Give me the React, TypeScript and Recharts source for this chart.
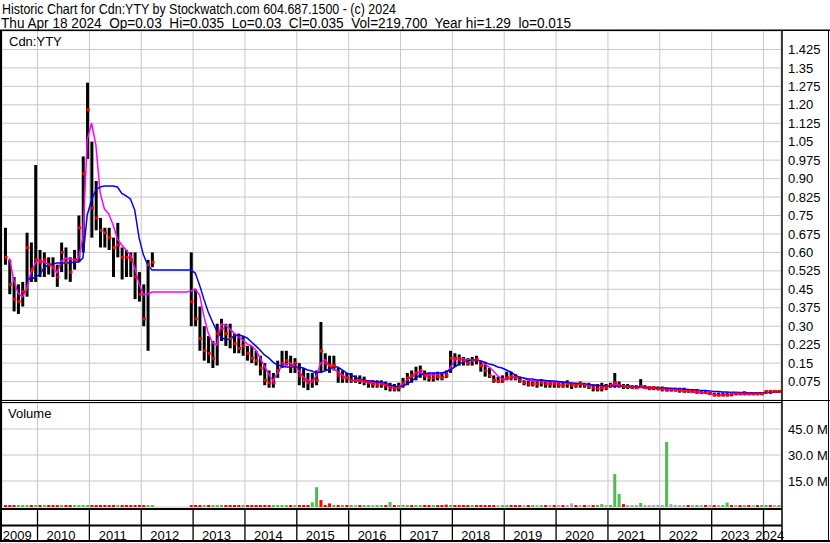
import React from 'react';
import { ComposedChart, Bar, Line, Scatter, XAxis, YAxis, CartesianGrid, Cell } from 'recharts';

const FONT = '"Liberation Sans", Arial, Helvetica, sans-serif';

const TITLE_LINE_1 = 'Historic Chart for Cdn:YTY by Stockwatch.com 604.687.1500 - (c) 2024';
const TITLE_LINE_2 = 'Thu Apr 18 2024  Op=0.03  Hi=0.035  Lo=0.03  Cl=0.035  Vol=219,700  Year hi=1.29  lo=0.015';
const PRICE_PANEL_LABEL = 'Cdn:YTY';
const VOLUME_PANEL_LABEL = 'Volume';

const YEARS = [2009, 2010, 2011, 2012, 2013, 2014, 2015, 2016, 2017, 2018, 2019, 2020, 2021, 2022, 2023, 2024];
const X_DOMAIN: [number, number] = [2009.315, 2024.337];
const PRICE_TICKS = [0.075, 0.15, 0.225, 0.3, 0.375, 0.45, 0.525, 0.6, 0.675, 0.75, 0.825, 0.9, 0.975, 1.05, 1.125, 1.2, 1.275, 1.35, 1.425];
const VOLUME_TICKS = [15, 30, 45];

// monthly categories 2009-05 .. 2024-04
const MONTHS: string[] = (() => {
  const out: string[] = [];
  let y = 2009, m = 5;
  while (y < 2024 || (y === 2024 && m <= 4)) {
    out.push(`${y}-${String(m).padStart(2, '0')}`);
    m++; if (m > 12) { m = 1; y++; }
  }
  return out;
})();

const HIGH = [
  0.70, 0.57, 0.50, 0.47, 0.48, 0.68, 0.64, 0.955, 0.61, 0.60,
  0.58, 0.58, 0.55, 0.64, 0.62, 0.58, 0.61, 0.75, 0.99, 1.29,
  1.05, 0.89, 0.74, 0.70, 0.70, 0.66, 0.72, 0.62, 0.61, 0.60,
  0.60, 0.52, 0.47, 0.57, 0.60, null, null, null, null, null,
  null, null, null, 0.60, 0.45, 0.38, 0.30, 0.26, 0.24, 0.31,
  0.33, 0.31, 0.31, 0.27, 0.27, 0.26, 0.22, 0.22, 0.20, 0.18,
  0.15, 0.12, 0.11, 0.16, 0.20, 0.20, 0.18, 0.17, 0.15, 0.13,
  0.11, 0.11, 0.12, 0.317, 0.19, 0.18, 0.18, 0.13, 0.12, 0.11,
  0.11, 0.10, 0.10, 0.095, 0.08, 0.08, 0.08, 0.08, 0.075, 0.07,
  0.065, 0.07, 0.09, 0.11, 0.12, 0.135, 0.14, 0.12, 0.11, 0.11,
  0.115, 0.11, 0.12, 0.20, 0.19, 0.185, 0.175, 0.17, 0.175, 0.18,
  0.16, 0.155, 0.13, 0.10, 0.095, 0.10, 0.115, 0.115, 0.105, 0.095,
  0.08, 0.08, 0.08, 0.08, 0.085, 0.075, 0.08, 0.075, 0.075, 0.075,
  0.08, 0.07, 0.07, 0.075, 0.07, 0.07, 0.065, 0.065, 0.07, 0.065,
  0.07, 0.11, 0.075, 0.065, 0.065, 0.06, 0.06, 0.085, 0.06, 0.055,
  0.055, 0.055, 0.055, 0.05, 0.05, 0.05, 0.05, 0.05, 0.045, 0.045,
  0.045, 0.04, 0.04, 0.035, 0.03, 0.03, 0.03, 0.03, 0.03, 0.03,
  0.03, 0.035, 0.03, 0.03, 0.03, 0.03, 0.04, 0.04, 0.04, 0.04,
];

const LOW = [
  0.55, 0.43, 0.36, 0.35, 0.38, 0.42, 0.48, 0.48, 0.50, 0.50,
  0.51, 0.50, 0.46, 0.52, 0.49, 0.48, 0.53, 0.56, 0.60, 0.98,
  0.66, 0.69, 0.62, 0.62, 0.61, 0.50, 0.58, 0.49, 0.50, 0.50,
  0.41, 0.40, 0.30, 0.20, 0.54, null, null, null, null, null,
  null, null, null, 0.30, 0.30, 0.20, 0.16, 0.15, 0.13, 0.14,
  0.24, 0.22, 0.21, 0.19, 0.19, 0.18, 0.16, 0.15, 0.14, 0.10,
  0.06, 0.05, 0.05, 0.09, 0.13, 0.14, 0.11, 0.11, 0.06, 0.05,
  0.04, 0.05, 0.06, 0.11, 0.12, 0.11, 0.12, 0.07, 0.07, 0.07,
  0.07, 0.07, 0.065, 0.06, 0.05, 0.05, 0.05, 0.05, 0.04, 0.035,
  0.035, 0.035, 0.05, 0.06, 0.07, 0.08, 0.09, 0.08, 0.075, 0.075,
  0.08, 0.08, 0.09, 0.11, 0.135, 0.14, 0.14, 0.14, 0.14, 0.145,
  0.115, 0.095, 0.09, 0.07, 0.07, 0.07, 0.08, 0.08, 0.08, 0.07,
  0.06, 0.055, 0.055, 0.05, 0.055, 0.05, 0.05, 0.05, 0.05, 0.05,
  0.05, 0.045, 0.05, 0.05, 0.05, 0.045, 0.035, 0.035, 0.035, 0.04,
  0.05, 0.05, 0.05, 0.045, 0.045, 0.045, 0.045, 0.05, 0.045, 0.04,
  0.04, 0.04, 0.035, 0.035, 0.035, 0.035, 0.03, 0.03, 0.03, 0.03,
  0.025, 0.025, 0.025, 0.02, 0.015, 0.015, 0.015, 0.015, 0.015, 0.02,
  0.02, 0.02, 0.02, 0.02, 0.02, 0.02, 0.025, 0.025, 0.03, 0.03,
];

const CLOSE = [
  0.58, 0.47, 0.41, 0.40, 0.44, 0.62, 0.53, 0.57, 0.56, 0.57,
  0.55, 0.54, 0.50, 0.60, 0.56, 0.52, 0.57, 0.70, 0.92, 1.18,
  0.78, 0.74, 0.69, 0.68, 0.66, 0.62, 0.63, 0.58, 0.58, 0.57,
  0.50, 0.43, 0.33, 0.55, 0.56, null, null, null, null, null,
  null, null, null, 0.40, 0.33, 0.25, 0.20, 0.19, 0.17, 0.27,
  0.29, 0.27, 0.25, 0.23, 0.21, 0.22, 0.19, 0.17, 0.16, 0.13,
  0.08, 0.07, 0.07, 0.12, 0.15, 0.16, 0.14, 0.15, 0.10, 0.08,
  0.07, 0.08, 0.08, 0.20, 0.15, 0.14, 0.14, 0.10, 0.09, 0.09,
  0.08, 0.08, 0.08, 0.075, 0.07, 0.065, 0.06, 0.065, 0.06, 0.05,
  0.045, 0.05, 0.07, 0.09, 0.10, 0.11, 0.12, 0.10, 0.09, 0.09,
  0.095, 0.09, 0.10, 0.17, 0.17, 0.165, 0.16, 0.15, 0.16, 0.165,
  0.14, 0.12, 0.10, 0.08, 0.075, 0.08, 0.09, 0.095, 0.09, 0.08,
  0.07, 0.065, 0.065, 0.065, 0.07, 0.065, 0.065, 0.065, 0.06, 0.06,
  0.065, 0.06, 0.06, 0.065, 0.06, 0.055, 0.05, 0.045, 0.05, 0.05,
  0.06, 0.07, 0.06, 0.055, 0.055, 0.05, 0.05, 0.055, 0.05, 0.05,
  0.05, 0.045, 0.045, 0.04, 0.04, 0.04, 0.04, 0.035, 0.035, 0.035,
  0.035, 0.03, 0.03, 0.03, 0.02, 0.02, 0.02, 0.02, 0.025, 0.025,
  0.025, 0.025, 0.025, 0.025, 0.025, 0.025, 0.035, 0.035, 0.035, 0.035,
];

// fast moving average (magenta)
const MA_FAST = [
  null, 0.577, 0.488, 0.435, 0.419, 0.451, 0.52, 0.557, 0.569, 0.561,
  0.553, 0.54, 0.516, 0.565, 0.577, 0.573, 0.569, 0.577, 0.659, 1.057,
  1.126, 1.037, 0.841, 0.776, 0.756, 0.711, 0.654, 0.63, 0.61, 0.589,
  0.537, 0.472, 0.427, 0.431, 0.439, 0.439, 0.439, 0.439, 0.439, 0.439,
  0.439, 0.439, 0.439, 0.443, 0.451, 0.427, 0.341, 0.272, 0.232, 0.224,
  0.309, 0.305, 0.289, 0.272, 0.256, 0.244, 0.228, 0.22, 0.203, 0.171,
  0.138, 0.106, 0.077, 0.11, 0.138, 0.146, 0.15, 0.138, 0.118, 0.093,
  0.081, 0.073, 0.098, 0.15, 0.163, 0.138, 0.126, 0.114, 0.102, 0.089,
  0.081, 0.077, 0.077, 0.073, 0.073, 0.073, 0.069, 0.069, 0.061, 0.053,
  0.049, 0.053, 0.065, 0.081, 0.098, 0.11, 0.114, 0.106, 0.102, 0.102,
  0.106, 0.11, 0.11, 0.13, 0.163, 0.171, 0.167, 0.163, 0.163, 0.163,
  0.159, 0.146, 0.134, 0.118, 0.098, 0.085, 0.085, 0.089, 0.093, 0.093,
  0.089, 0.081, 0.077, 0.077, 0.077, 0.075, 0.073, 0.073, 0.071, 0.071,
  0.069, 0.067, 0.067, 0.065, 0.065, 0.063, 0.061, 0.059, 0.057, 0.057,
  0.059, 0.065, 0.061, 0.055, 0.053, 0.053, 0.051, 0.051, 0.049, 0.047,
  0.047, 0.045, 0.043, 0.043, 0.041, 0.041, 0.039, 0.037, 0.035, 0.033,
  0.031, 0.029, 0.027, 0.025, 0.022, 0.021, 0.021, 0.021, 0.022, 0.023,
  0.024, 0.024, 0.024, 0.025, 0.025, 0.026, 0.03, 0.032, 0.034, 0.035,
];

// slow moving average (blue)
const MA_SLOW = [
  null, null, null, null, null, 0.496, 0.49, 0.50, 0.51, 0.537,
  0.549, 0.553, 0.557, 0.557, 0.557, 0.557, 0.561, 0.561, 0.577, 0.752,
  0.813, 0.854, 0.866, 0.87, 0.87, 0.87, 0.866, 0.84, 0.83, 0.817,
  0.772, 0.659, 0.59, 0.549, 0.528, 0.528, 0.528, 0.528, 0.528, 0.528,
  0.528, 0.528, 0.528, 0.528, 0.516, 0.467, 0.41, 0.358, 0.317, 0.28,
  0.256, 0.244, 0.248, 0.26, 0.264, 0.26, 0.252, 0.236, 0.22, 0.203,
  0.183, 0.171, 0.154, 0.142, 0.138, 0.134, 0.134, 0.134, 0.134, 0.13,
  0.122, 0.118, 0.11, 0.114, 0.118, 0.126, 0.134, 0.134, 0.122, 0.11,
  0.102, 0.093, 0.085, 0.081, 0.077, 0.077, 0.073, 0.073, 0.069, 0.061,
  0.057, 0.053, 0.057, 0.065, 0.077, 0.089, 0.102, 0.106, 0.11, 0.11,
  0.11, 0.11, 0.114, 0.122, 0.134, 0.146, 0.154, 0.159, 0.163, 0.163,
  0.159, 0.154, 0.146, 0.142, 0.134, 0.13, 0.122, 0.114, 0.102, 0.093,
  0.089, 0.085, 0.085, 0.081, 0.081, 0.079, 0.077, 0.077, 0.075, 0.073,
  0.071, 0.069, 0.067, 0.067, 0.065, 0.063, 0.061, 0.059, 0.059, 0.057,
  0.057, 0.057, 0.057, 0.055, 0.055, 0.055, 0.055, 0.053, 0.053, 0.051,
  0.051, 0.049, 0.049, 0.049, 0.047, 0.047, 0.045, 0.045, 0.043, 0.041,
  0.041, 0.039, 0.039, 0.037, 0.035, 0.035, 0.033, 0.033, 0.031, 0.031,
  0.03, 0.03, 0.029, 0.029, 0.029, 0.029, 0.03, 0.031, 0.032, 0.033,
];

// volume in millions (largest daily bar visible in each month)
const VOLUME_M = [
  0.8, 0.6, 0.7, 0.5, 0.6, 0.9, 0.7, 1.2, 0.6, 0.5,
  0.5, 0.6, 0.5, 0.7, 0.6, 0.5, 0.6, 0.8, 1.0, 1.1,
  0.9, 0.7, 0.6, 0.5, 0.5, 0.6, 0.5, 0.6, 0.4, 0.5,
  0.6, 0.6, 0.8, 0.7, 0.5, null, null, null, null, null,
  null, null, null, 0.8, 0.9, 0.8, 1.0, 0.9, 1.1, 0.8,
  0.7, 0.6, 0.6, 0.7, 0.6, 0.7, 0.6, 0.6, 0.5, 0.7,
  0.8, 0.6, 0.6, 0.8, 0.7, 0.6, 0.7, 0.6, 0.8, 0.7,
  1.0, 2.7, 11.4, 4.0, 1.2, 2.1, 1.2, 0.7, 0.8, 0.6,
  0.7, 0.8, 0.6, 0.7, 1.0, 0.8, 0.7, 0.8, 0.9, 2.9,
  0.8, 0.9, 1.2, 0.8, 0.7, 0.8, 0.9, 0.6, 0.7, 0.6,
  0.7, 0.6, 1.4, 1.0, 0.8, 0.6, 0.7, 0.6, 0.7, 0.6,
  0.8, 0.9, 0.6, 0.6, 0.5, 0.5, 0.6, 0.5, 0.6, 0.5,
  0.5, 0.6, 0.5, 0.5, 0.6, 0.5, 0.6, 0.5, 0.5, 0.6,
  0.7, 2.1, 0.6, 0.7, 0.5, 0.6, 0.7, 1.0, 1.7, 0.9,
  1.2, 19.0, 7.5, 1.7, 0.8, 0.7, 1.2, 2.3, 0.7, 0.8,
  1.2, 0.9, 0.7, 37.5, 1.7, 0.6, 0.7, 0.5, 0.4, 0.5,
  0.4, 0.5, 0.4, 0.5, 0.6, 0.5, 0.6, 2.5, 0.6, 0.5,
  0.4, 0.5, 0.5, 0.6, 0.4, 0.5, 0.6, 0.5, 0.8, 0.4,
];

// u = up (green), d = down (red), n = unchanged (grey), - = no trading
const VOLUME_DIR = (
  'ddduuududu' + 'dddudduuuu' + 'dddddduddd' + 'ddduu-----' + '---ddduduu' +
  'uddddudddd' + 'dduuuududd' + 'duudddudud' + 'unduunuudu' + 'duuuduuddu' +
  'ddduddddud' + 'ddddnuuddd' + 'ndunudndnd' + 'nndndnduun' + 'uuudnnnunn' +
  'nnnunnnndn' + 'undndnuudn' + 'dudnduudnu'
).split('');

const DIR_COLOR: Record<string, string> = { u: '#4fba4f', d: '#ff0000', n: '#a9a9a9', '-': 'transparent' };

const monthToYear = (m: string) => {
  const [y, mm] = m.split('-').map(Number);
  return y + (mm - 0.5) / 12;
};

const rows = MONTHS.map((m, i) => ({
  month: m,
  t: monthToYear(m),
  hl: HIGH[i] == null ? null : [LOW[i] as number, HIGH[i] as number],
  c: CLOSE[i],
  fast: MA_FAST[i],
  slow: MA_SLOW[i],
  vol: VOLUME_M[i],
  dir: VOLUME_DIR[i],
}));
const closeRows = rows.filter((r) => r.c != null);

const YEAR_BOUNDS = YEARS.filter((y) => y > X_DOMAIN[0] && y < X_DOMAIN[1]);
const LABEL_POS = YEARS.map((y) => (Math.max(y, X_DOMAIN[0]) + Math.min(y + 1, X_DOMAIN[1])) / 2);
const LABEL_TICKS = [...YEAR_BOUNDS, ...LABEL_POS];

const fmtPrice = (v: number) => {
  const s = v.toFixed(3);
  return s.endsWith('0') ? s.slice(0, -1) : s;
};
const fmtVol = (v: number) => `${v.toFixed(1)} M`;

const CloseMark = (p: any) => {
  if (p.cx == null || p.cy == null || isNaN(p.cx) || isNaN(p.cy)) return <g />;
  return <rect x={p.cx - 0.5} y={p.cy - 1.5} width={3} height={3} fill="#ff0000" />;
};

// the volume chart sits at page y = 400; separator rows span page y 509..541
const VOL_TOP = 400;
const YearTick = (p: any) => {
  const v = p.payload?.value;
  const idx = LABEL_POS.indexOf(v);
  if (idx < 0) {
    return <line x1={p.x} x2={p.x} y1={509 - VOL_TOP} y2={541 - VOL_TOP} stroke="#000" strokeWidth={1.3} />;
  }
  return (
    <text x={p.x} y={539.5 - VOL_TOP} dx={-2.5} textAnchor="middle" fontSize={13} fill="#000" fontFamily={FONT}>
      {String(YEARS[idx])}
    </text>
  );
};

const axisTick = { fontSize: 13, fill: '#000', fontFamily: FONT };

export default function App() {
  return (
    <div style={{ position: 'absolute', left: 0, top: 0, width: 830, height: 543, background: '#fff', fontFamily: FONT, overflow: 'hidden' }}>
      <div style={{ position: 'absolute', left: 0, top: 0 }}>
        <ComposedChart width={830} height={401} data={rows} margin={{ top: 31, right: 0, bottom: 1, left: 2 }}>
          <CartesianGrid stroke="#c8c8c8" strokeWidth={1} />
          <XAxis dataKey="t" type="number" domain={X_DOMAIN} ticks={YEAR_BOUNDS} hide allowDataOverflow />
          <YAxis
            orientation="right"
            width={49}
            domain={[0, 1.5]}
            ticks={PRICE_TICKS}
            interval={0}
            tickFormatter={fmtPrice}
            axisLine={false}
            tickLine={false}
            tickMargin={1}
            tick={axisTick}
            allowDataOverflow
          />
          <Bar dataKey="hl" fill="#000000" barSize={3} isAnimationActive={false} />
          <Scatter data={closeRows} dataKey="c" shape={CloseMark} isAnimationActive={false} />
          <Line dataKey="fast" type="linear" stroke="#ff00ff" strokeWidth={1.5} dot={false} isAnimationActive={false} />
          <Line dataKey="slow" type="linear" stroke="#0000ff" strokeWidth={1.5} dot={false} isAnimationActive={false} />
        </ComposedChart>
      </div>
      <div style={{ position: 'absolute', left: 0, top: VOL_TOP }}>
        <ComposedChart width={830} height={143} data={rows} margin={{ top: 3, right: 0, bottom: 0, left: 2 }}>
          <CartesianGrid stroke="#c8c8c8" strokeWidth={1} xAxisId="g" />
          <XAxis xAxisId="g" dataKey="t" type="number" domain={X_DOMAIN} ticks={YEAR_BOUNDS} hide allowDataOverflow />
          <XAxis
            xAxisId="lab"
            dataKey="t"
            type="number"
            domain={X_DOMAIN}
            ticks={LABEL_TICKS}
            interval={0}
            height={36}
            tick={(p: any) => <YearTick {...p} />}
            tickLine={false}
            axisLine={false}
            tickSize={0}
            tickMargin={0}
            allowDataOverflow
          />
          <YAxis
            orientation="right"
            width={49}
            domain={[0, 60]}
            ticks={VOLUME_TICKS}
            interval={0}
            tickFormatter={fmtVol}
            axisLine={false}
            tickLine={false}
            tickMargin={1}
            tick={axisTick}
            allowDataOverflow
          />
          <Bar xAxisId="g" dataKey="vol" barSize={3} minPointSize={(v: any) => (v ? 2 : 0)} isAnimationActive={false}>
            {rows.map((r, i) => (
              <Cell key={i} fill={DIR_COLOR[r.dir] || '#a9a9a9'} />
            ))}
          </Bar>
        </ComposedChart>
      </div>
      <svg width={830} height={543} style={{ position: 'absolute', left: 0, top: 0, pointerEvents: 'none' }}>
        <text x={2} y={13.5} fontSize={14} fill="#000" fontFamily={FONT} textLength={394} lengthAdjust="spacingAndGlyphs" style={{ whiteSpace: 'pre' }}>
          {TITLE_LINE_1}
        </text>
        <text x={1} y={28} fontSize={14} fill="#000" fontFamily={FONT} textLength={570} lengthAdjust="spacingAndGlyphs" style={{ whiteSpace: 'pre' }}>
          {TITLE_LINE_2}
        </text>
        <text x={9} y={46} fontSize={13} fill="#000" fontFamily={FONT}>{PRICE_PANEL_LABEL}</text>
        <text x={8} y={418} fontSize={13} fill="#000" fontFamily={FONT}>{VOLUME_PANEL_LABEL}</text>
        <g stroke="#000" fill="none">
          <line x1={0} x2={830} y1={30.25} y2={30.25} strokeWidth={1.5} />
          <line x1={1} x2={1} y1={30} y2={542} strokeWidth={2} />
          <line x1={782} x2={782} y1={30} y2={542} strokeWidth={1.5} />
          <line x1={828.5} x2={828.5} y1={30} y2={542} strokeWidth={1} />
          <line x1={0} x2={830} y1={400.5} y2={400.5} strokeWidth={1} />
          <line x1={0} x2={782} y1={402.5} y2={402.5} strokeWidth={1} />
          <line x1={0} x2={782} y1={509} y2={509} strokeWidth={2} />
          <line x1={0} x2={782} y1={525.5} y2={525.5} strokeWidth={2} />
          <line x1={0} x2={830} y1={541} y2={541} strokeWidth={2} />
        </g>
      </svg>
    </div>
  );
}
